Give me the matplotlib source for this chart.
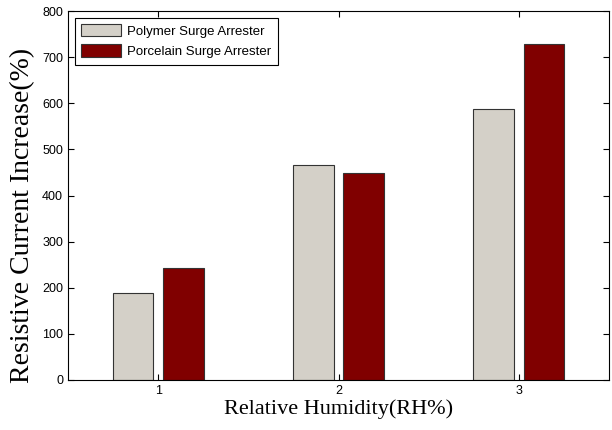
import numpy as np
import matplotlib.pyplot as plt

groups = [1, 2, 3]
polymer = [188, 466, 587]
porcelain = [242, 448, 729]
series_names = ['Polymer Surge Arrester', 'Porcelain Surge Arrester']

fig = plt.figure(figsize=(6.12, 4.3), dpi=100)
ax = fig.add_axes([68/612, 1 - 380/430, 541/612, 369/430])

x = np.array(groups)
w = 0.225
ax.bar(x - 0.14, polymer, w, color='#d4d0c8', edgecolor='#333333', linewidth=0.8,
       label=series_names[0])
ax.bar(x + 0.14, porcelain, w, color='#800000', edgecolor='#333333', linewidth=0.8,
       label=series_names[1])

ax.set_xlim(0.5, 3.5)
ax.set_ylim(0, 800)
ax.set_xticks(groups)
ax.set_yticks(np.arange(0, 801, 100))
ax.tick_params(direction='in', top=True, right=True, labelsize=9, length=4, width=0.8)
for lab in ax.get_xticklabels() + ax.get_yticklabels():
    lab.set_family('Liberation Sans')

ax.set_xlabel('Relative Humidity(RH%)', family='Liberation Serif', fontsize=16, labelpad=2)
ax.set_ylabel('Resistive Current Increase(%)', family='Liberation Serif', fontsize=20)
ax.yaxis.set_label_coords(-0.06, 0.445)
for s in ax.spines.values():
    s.set_linewidth(0.8)

leg = ax.legend(loc='upper left', prop={'family': 'Liberation Sans', 'size': 9.5},
                fancybox=False, edgecolor='black', framealpha=1, handlelength=3.0,
                handleheight=1.05, borderaxespad=0.5, labelspacing=0.5, borderpad=0.5,
                handletextpad=0.5)
leg.get_frame().set_linewidth(0.8)

fig.savefig('out.png', dpi=100)
